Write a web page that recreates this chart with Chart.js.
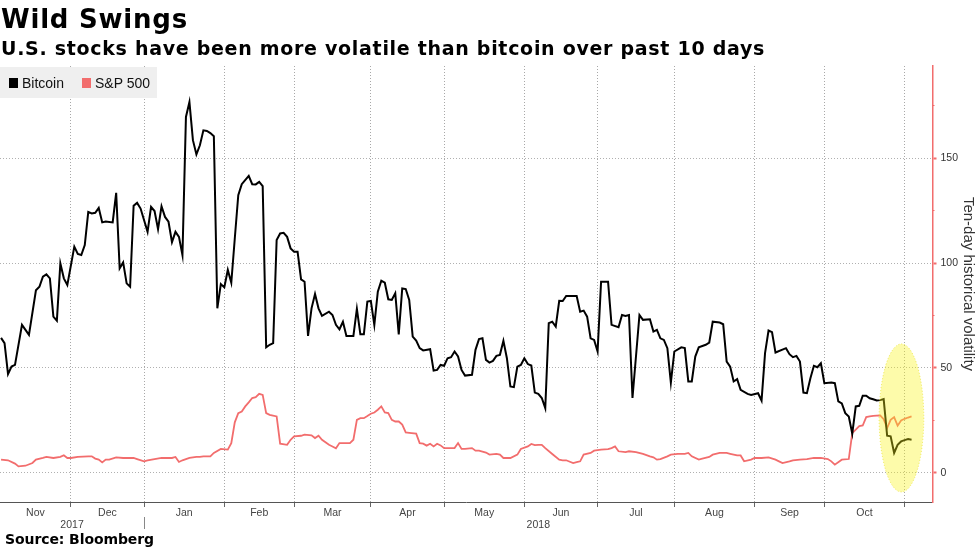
<!DOCTYPE html>
<html>
<head>
<meta charset="utf-8">
<script src="https://cdn.jsdelivr.net/npm/chart.js@4.4.0/dist/chart.umd.min.js"></script>
<style>
html,body{margin:0;padding:0;background:#fff;}
#wrap{position:relative;width:977px;height:549px;overflow:hidden;background:#fff;}
#c{position:absolute;left:0;top:0;}
.t{position:absolute;font-family:"DejaVu Sans",sans-serif;font-weight:bold;color:#000;white-space:nowrap;line-height:1;}
#title{left:1px;top:6px;font-size:26px;}
#sub{left:1px;top:39px;font-size:19px;}
#src{left:5px;top:532px;font-size:14px;}
#legend{position:absolute;left:0;top:67px;width:157px;height:31px;background:#efefef;font-family:"Liberation Sans",sans-serif;font-size:14px;color:#111;}
#legend .sw{position:absolute;top:11px;width:9px;height:10px;}
#legend .lb{position:absolute;top:8px;height:16px;line-height:16px;white-space:nowrap;}
</style>
</head>
<body>
<div id="wrap">
  <canvas id="c" width="977" height="549"></canvas>
  <div class="t" id="title" data-w="187">Wild Swings</div>
  <div class="t" id="sub" data-w="764">U.S. stocks have been more volatile than bitcoin over past 10 days</div>
  <div class="t" id="src" data-w="149">Source: Bloomberg</div>
  <div id="legend"></div>
</div>
<script>
// ---- Data (x = weekday index, 0 = 3 Nov 2017) ----
const seriesNames = ['Bitcoin', 'S&P 500'];
const seriesColors = ['#000000', '#f26d6d'];

const btcDays = [0,1,2,3,4,6,8,10,11,12,13,14,15,16,17,18,19,21,22,23,24,25,26,27,28,29,30,32,33,34,35,36,37,38,39,40,42,43,44,45,46,47,48,49,50,51,52,53,54,55,56,57,58,59,60,61,62,63,64,65,66,67,68,69,71,72,73,74,75,76,77,78,79,80,81,82,83,84,85,86,87,88,89,90,91,92,94,95,96,97,98,99,101,102,103,104,105,106,107,108,109,110,111,112,113,114,115,116,117,118,119,120,121,123,124,125,126,127,128,129,130,131,132,133,135,136,137,138,139,140,141,142,143,144,145,146,147,148,149,150,151,152,153,154,155,156,157,158,159,160,161,162,165,166,167,168,169,170,171,172,174,175,177,178,179,180,181,183,184,186,187,188,189,190,191,192,193,195,196,197,198,199,200,202,203,204,206,207,208,209,210,211,212,214,215,217,218,219,220,221,222,225,226,227,228,229,230,231,232,233,234,235,236,238,239,240,241,242,243,244,245,246,247,248,249,250,251,252,253,254,255,256,257,258,259,260,261];
const btcVals = [64.3,61.8,47,50.6,51.4,70.5,65.7,87,88.7,93.5,94.6,92.7,74.4,72.5,99.8,92.7,89.5,107.8,104.3,103.8,108.6,124.4,123.7,124,126.3,119.4,119.8,119.4,133.5,97.5,100.3,90.3,88.7,127.3,128.7,126,114.9,126.8,124.8,116.2,127.1,122,119.7,110,114.9,112.5,103.8,169.7,176.8,158.6,151.8,156.2,163.3,163,162,160.5,78.4,90,88.4,96.7,90.6,111.7,132.4,137.6,141.6,137.6,137.5,138.7,136.7,59.8,61,61.8,111,114.1,114.4,112.5,107,105.4,105.4,92.2,91.1,65.2,78.4,85.2,78.4,74.8,76.8,75.2,70.5,68.4,72,65.2,65.2,78.1,66,66,81.6,81.9,70.5,86.3,91.6,90.6,82.7,82.4,85.6,66,87.9,87.6,82.4,64.9,63,59.4,58.3,58.9,48.7,49,51.4,51,54.6,55.1,57.8,55.4,49,46.3,46.7,58.6,63.7,64.1,53.8,52.5,53.3,55.7,56.2,62.9,54.6,41.1,40.8,50.6,51.4,54.6,51.8,51.1,38.2,37.6,35.6,30.8,71.3,72,69.7,82,81.9,84.3,84.3,76.8,77.3,74.4,64.1,63.3,57.8,91.1,91.1,70.5,69.4,75.2,74.8,75.2,35.6,75.2,72.9,73.2,67.3,68.1,64.1,63.3,59.4,43,57.8,59.8,59.4,43.5,43.5,55.4,59.8,61,62,72,71.6,70.8,53,50.6,43.5,44.6,39.5,37.6,37.1,37.9,34.4,57,67.8,67,57.3,59.4,56.5,55.1,55.7,53,38.2,37.9,45,51,50.3,52.2,42.7,43,42.7,34,33,28.4,26.8,18.6,31.6,31.9,36.7,36.7,35.5,35,34.4,34.6,35.1,17.6,17.3,9.4,13.3,14.9,15.5,16,15.7];

const spxDays = [0,2,4,5,7,9,10,12,13,15,17,18,19,20,22,25,26,27,28,29,30,31,33,35,38,39,41,42,44,46,47,49,50,51,52,54,56,57,58,60,61,63,65,66,67,68,69,70,71,72,73,74,75,76,77,79,80,82,83,84,86,87,89,90,91,92,94,95,96,97,99,100,101,102,103,104,105,106,107,108,109,110,111,112,113,114,115,116,117,119,120,121,122,123,124,125,126,127,128,130,131,132,133,135,136,137,139,140,142,143,144,146,148,149,151,152,153,154,155,156,158,160,161,162,164,165,166,167,169,170,172,174,175,176,177,179,180,182,184,186,187,188,189,191,192,194,196,197,198,200,201,203,204,206,208,209,211,212,213,215,216,218,220,222,223,224,226,227,229,231,233,235,237,238,239,241,243,244,245,246,247,248,249,250,251,252,253,254,255,256,257,258,259,260,261];
const spxVals = [6.2,5.9,4.3,3,3.3,4.6,6.2,7,7.5,7,7.5,8.3,7,7,7.5,7.8,7.8,6.7,6.2,4.9,6.2,6.2,7.3,7,7,6.5,5.4,5.9,6.5,7,7,7,7.5,5.1,5.9,7,7.5,7.5,7.8,7.8,9.4,11.3,11,14.1,24,28.4,29.2,31.6,33.5,35.6,36,37.6,37.1,28.4,27.6,26.8,13.8,13.3,15.7,17.3,17.6,18.1,17.8,16.5,17.6,15.7,13.3,12.5,11.6,14.1,14.1,14.1,15.7,25.2,26,26,27,28.1,28.7,30,31.6,28.7,28.4,25.2,24.4,24.4,22.9,19.2,19,18.6,14.1,13.8,12.9,13.8,12.5,13.8,13,11.7,11.7,11.7,14.1,11.3,11.3,11.7,10.5,10.5,9.6,8.6,9,8.6,7,7,8.6,11.3,12.5,13.7,13.1,13.3,13.3,11.7,8.9,6.2,5.9,5.9,4.6,5,5.4,8.6,9.4,10.5,11,11.2,11.7,12.5,10.2,9.8,10.2,9.8,9,7.8,7.3,6.2,6.5,7.8,8.6,9,9,9.4,7.8,6.2,6.7,7.5,8.6,9.4,9.4,9,8.2,8.2,5.4,6.2,7,7,7.3,6.2,5.4,4.6,5.4,5.9,6.2,6.5,7,7,6.5,5.4,3.8,6.2,6.5,18.9,20.5,22.2,22.5,26.5,26.8,27.1,27.2,27.3,25.5,21.3,25.2,26.5,22.4,24.9,25.7,26.3,26.8];

// ---- Axes ----
const monthStarts = [20,41,64,84,106,127,150,171,193,216,236,259]; // first weekday of Dec 2017 ... Nov 2018
const monthNames = ['Nov','Dec','Jan','Feb','Mar','Apr','May','Jun','Jul','Aug','Sep','Oct'];
const yearNames = ['2017','2018'];
const yearStart = 41; // 1 Jan 2018
const xMin = -0.3, xMax = 267;
const yMin = -14, yMax = 194;
const yTicks = [0,50,100,150];
const yMinorTicks = [25,75,125,175];
const axisTitle = 'Ten-day historical volatility';

// highlighted area (weekday index / volatility units)
const highlight = {cx: 258.1, cy: 26.1, rx: 6.4, ry: 35.3};

const bounds = [xMin].concat(monthStarts);
const monthPos = monthNames.map((n, i) => (bounds[i] + bounds[i + 1]) / 2);
const yearPos = [(xMin + yearStart) / 2, (yearStart + xMax) / 2];

// ---- legend (HTML) ----
const lg = document.getElementById('legend');
const lgX = [[9, 22], [82, 95]];
seriesNames.forEach((n, i) => {
  const sw = document.createElement('div'); sw.className = 'sw';
  sw.style.left = lgX[i][0] + 'px'; sw.style.background = seriesColors[i];
  const lb = document.createElement('div'); lb.className = 'lb';
  lb.style.left = lgX[i][1] + 'px'; lb.textContent = n;
  lg.appendChild(sw); lg.appendChild(lb);
});

// fit text widths
document.querySelectorAll('.t').forEach(el => {
  const target = +el.dataset.w;
  const w = el.getBoundingClientRect().width;
  const n = el.textContent.length;
  el.style.letterSpacing = ((target - w) / n) + 'px';
});

const RED = seriesColors[1];
const labelFont = {family: 'Liberation Sans', size: 10.5};

const highlightPlugin = {
  id: 'highlight',
  afterDatasetsDraw(chart) {
    const {ctx, scales: {x, y}} = chart;
    const px = x.getPixelForValue(highlight.cx);
    const py = y.getPixelForValue(highlight.cy);
    const rx = x.getPixelForValue(highlight.cx + highlight.rx) - px;
    const ry = py - y.getPixelForValue(highlight.cy + highlight.ry);
    ctx.save();
    ctx.beginPath();
    ctx.ellipse(px, py, rx, ry, 0, 0, Math.PI * 2);
    ctx.fillStyle = 'rgba(250,245,20,0.36)';
    ctx.fill();
    ctx.setLineDash([1, 2]);
    ctx.lineWidth = 1;
    ctx.strokeStyle = 'rgba(235,228,70,0.9)';
    ctx.stroke();
    ctx.restore();
  }
};

const yearSepPlugin = {
  id: 'yearSep',
  afterDraw(chart) {
    const {ctx} = chart;
    const xs = chart.scales.x, xy = chart.scales.xy;
    const px = Math.round(xs.getPixelForValue(yearStart)) + 0.5;
    ctx.save();
    ctx.strokeStyle = '#888';
    ctx.lineWidth = 1;
    ctx.beginPath();
    ctx.moveTo(px, xy.top - 1);
    ctx.lineTo(px, xy.top + 11);
    ctx.stroke();
    ctx.restore();
  }
};

new Chart(document.getElementById('c'), {
  type: 'line',
  data: {
    datasets: [
      {label: seriesNames[0], data: btcDays.map((d, i) => ({x: d, y: btcVals[i]})),
       borderColor: seriesColors[0], borderWidth: 2, pointRadius: 0, tension: 0, order: 1},
      {label: seriesNames[1], data: spxDays.map((d, i) => ({x: d, y: spxVals[i]})),
       borderColor: seriesColors[1], borderWidth: 1.8, pointRadius: 0, tension: 0, order: 2}
    ]
  },
  options: {
    responsive: false, animation: false, devicePixelRatio: 1,
    layout: {padding: {top: 66, left: 0, right: 0, bottom: 0}},
    plugins: {legend: {display: false}, tooltip: {enabled: false}},
    scales: {
      x: {
        type: 'linear', axis: 'x', position: 'bottom', min: xMin, max: xMax, weight: 0,
        afterBuildTicks: s => { s.ticks = monthStarts.map(v => ({value: v})); },
        afterFit: s => { s.height = 0; },
        ticks: {display: false},
        grid: {color: '#a8a8a8', lineWidth: 1, drawTicks: true, tickLength: 5, tickColor: '#666', tickBorderDash: []},
        border: {display: true, color: '#555', width: 1, dash: [1, 2]}
      },
      xm: {
        type: 'linear', axis: 'x', position: 'bottom', min: xMin, max: xMax, weight: 1,
        afterBuildTicks: s => { s.ticks = monthPos.map(v => ({value: v})); },
        afterFit: s => { s.height = 16; },
        ticks: {autoSkip: false, maxRotation: 0, padding: 5, color: '#444', font: labelFont,
                callback: (v, i) => monthNames[i]},
        grid: {display: false, drawTicks: false},
        border: {display: false}
      },
      xy: {
        type: 'linear', axis: 'x', position: 'bottom', min: xMin, max: xMax, weight: 2,
        afterBuildTicks: s => { s.ticks = yearPos.map(v => ({value: v})); },
        afterFit: s => { s.height = 31; },
        ticks: {autoSkip: false, maxRotation: 0, padding: 1, color: '#444', font: labelFont,
                callback: (v, i) => yearNames[i]},
        grid: {display: false, drawTicks: false},
        border: {display: false}
      },
      yMinor: {
        type: 'linear', axis: 'y', position: 'right', min: yMin, max: yMax, weight: 0,
        afterBuildTicks: s => { s.ticks = yMinorTicks.map(v => ({value: v})); },
        afterFit: s => { s.width = 0; },
        ticks: {display: false},
        grid: {drawOnChartArea: false, drawTicks: true, tickLength: 2, tickColor: RED, tickWidth: 1},
        border: {display: false}
      },
      y: {
        type: 'linear', axis: 'y', position: 'right', min: yMin, max: yMax, weight: 1,
        afterBuildTicks: s => { s.ticks = yTicks.map(v => ({value: v})); },
        afterFit: s => { s.width = 44.5; },
        ticks: {padding: 4, color: '#333', font: labelFont},
        grid: {color: '#b0b0b0', lineWidth: 1, drawTicks: true, tickLength: 4, tickColor: RED, tickWidth: 2, tickBorderDash: []},
        border: {display: true, color: RED, width: 1.5, dash: [1, 2]},
        title: {display: true, text: axisTitle, color: '#333', font: {family: 'Liberation Sans', size: 15}, padding: {top: 0, bottom: 0}}
      }
    }
  },
  plugins: [highlightPlugin, yearSepPlugin]
});
</script>
</body>
</html>
